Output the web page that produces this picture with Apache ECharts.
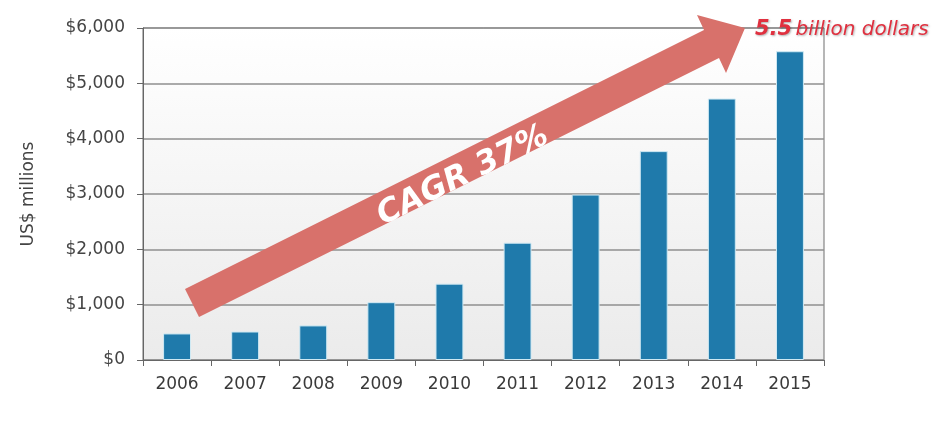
<!DOCTYPE html>
<html><head><meta charset="utf-8">
<script src="https://cdn.jsdelivr.net/npm/echarts@6/dist/echarts.min.js"></script>
<style>html,body{margin:0;padding:0;background:#fff}#c{width:950px;height:428px}</style>
</head><body><div id="c"></div>
<script>
const years = ['2006','2007','2008','2009','2010','2011','2012','2013','2014','2015'];
const revenue = [480, 515, 625, 1045, 1380, 2120, 2990, 3775, 4725, 5580];
const yTicks = [0, 1000, 2000, 3000, 4000, 5000, 6000];
const chart = echarts.init(document.getElementById('c'));
const FONT = 'DejaVu Sans';
// arrow annotation geometry (px)
const arrow = [[185,289],[704,30],[697,15],[745,28],[726,73],[719,58],[199,317]];
chart.setOption({
  animation: false,
  grid: {left: 143, right: 126, top: 28, bottom: 68, show: true,
    borderColor: '#6f6f6f', borderWidth: 1,
    backgroundColor: new echarts.graphic.LinearGradient(0,0,0,1,[{offset:0,color:'#ffffff'},{offset:1,color:'#ebebeb'}])},
  xAxis: {type: 'category', data: years,
    axisLine: {lineStyle: {color: '#666'}},
    axisTick: {show: true, length: 6, lineStyle: {color: '#666'}},
    axisLabel: {color: '#3a3a3a', fontFamily: FONT, fontSize: 17, margin: 16}},
  yAxis: {type: 'value', min: yTicks[0], max: yTicks[yTicks.length-1], interval: 1000,
    name: 'US$ millions', nameLocation: 'middle', nameGap: 106,
    nameTextStyle: {color: '#444', fontFamily: FONT, fontSize: 17},
    axisLine: {show: true, lineStyle: {color: '#666'}},
    axisTick: {show: true, length: 6, lineStyle: {color: '#666'}},
    splitLine: {lineStyle: {color: '#8f8f8f', width: 1.5}},
    axisLabel: {color: '#444', fontFamily: FONT, fontSize: 17, margin: 18,
      formatter: v => '$' + v.toLocaleString('en-US')}},
  series: [{type: 'bar', data: revenue, barWidth: '41%',
    itemStyle: {color: '#1f7aab', borderColor: '#cfe9f3', borderWidth: 1}}],
  graphic: [
    {type: 'polygon', z: 100, shape: {points: arrow}, style: {fill: '#d8716b'}},
    {type: 'text', z: 101, x: 463, y: 176, rotation: 26.5*Math.PI/180,
      style: {text: 'CAGR 37%', fill: '#fff', font: 'italic bold 32px "DejaVu Sans"', textAlign: 'center', textVerticalAlign: 'middle'}},
    {type: 'text', z: 101, x: 755, y: 30,
      style: {rich: {a: {font: 'italic bold 21px "DejaVu Sans"', fill: '#e0303f'}, b: {font: 'italic 20px "DejaVu Sans"', fill: '#e0303f'}},
        text: '{a|5.5} {b|billion dollars}', textVerticalAlign: 'middle',
        textShadowColor: 'rgba(0,0,0,0.3)', textShadowBlur: 2, textShadowOffsetX: 1, textShadowOffsetY: 1}}
  ]
});
</script></body></html>
